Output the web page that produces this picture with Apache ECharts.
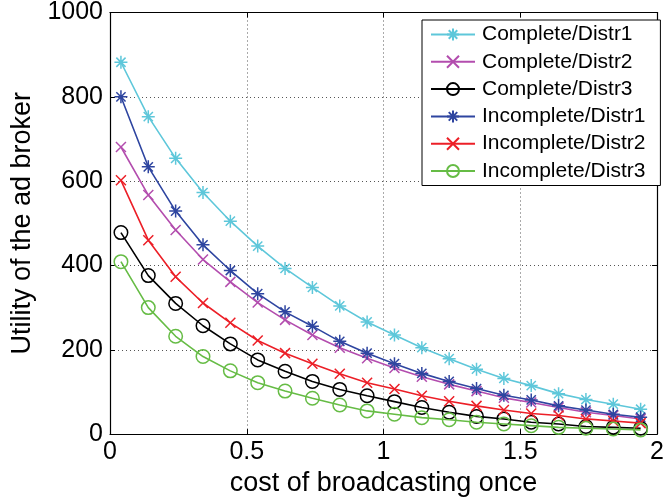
<!DOCTYPE html>
<html>
<head>
<meta charset="utf-8">
<script src="https://cdn.jsdelivr.net/npm/echarts@6/dist/echarts.min.js"></script>
<style>
html,body{margin:0;padding:0;background:#fff;}
#chart{width:667px;height:502px;}
</style>
</head>
<body>
<div id="chart"></div>
<script>
// ---- data ----
var xValues = [0.04, 0.14, 0.24, 0.34, 0.44, 0.54, 0.64, 0.74, 0.84, 0.94, 1.04, 1.14, 1.24, 1.34, 1.44, 1.54, 1.64, 1.74, 1.84, 1.94];
var seriesNames = ['Complete/Distr1', 'Complete/Distr2', 'Complete/Distr3', 'Incomplete/Distr1', 'Incomplete/Distr2', 'Incomplete/Distr3'];
var completeDistr1 = [882, 753, 654, 573, 505, 446, 393, 348, 304, 266, 235, 205, 179, 154, 132, 115, 96, 82, 71, 59];
var completeDistr2 = [681, 567, 484, 414, 361, 312, 271, 235, 205, 180, 157, 136, 118, 102, 86, 75, 63, 52, 44, 36];
var completeDistr3 = [478, 376, 310, 257, 214, 176, 149, 125, 106, 91, 77, 63, 52, 42, 36, 28, 24, 18, 16, 14];
var incompleteDistr1 = [800, 634, 529, 449, 388, 333, 290, 256, 220, 192, 167, 144, 125, 108, 92, 81, 67, 57, 47, 40];
var incompleteDistr2 = [602, 460, 373, 311, 264, 222, 192, 167, 143, 122, 107, 91, 78, 67, 57, 49, 44, 36, 31, 26];
var incompleteDistr3 = [409, 300, 232, 184, 150, 122, 102, 85, 69, 55, 47, 39, 34, 28, 24, 20, 16, 14, 12, 10];
var xTicks = [0, 0.5, 1, 1.5, 2];
var yTicks = [0, 200, 400, 600, 800, 1000];

// ---- styles ----
var FONT = "'Liberation Sans', Arial, Helvetica, sans-serif";
var ASTERISK = 'path://M0,-10L0,10M-10,0L10,0M-7.1,-7.1L7.1,7.1M-7.1,7.1L7.1,-7.1';
var CROSS = 'path://M-10,-10L10,10M-10,10L10,-10';
var styles = [
  {color: '#5EC7DA', symbol: ASTERISK, size: 13},
  {color: '#B34DAE', symbol: CROSS, size: 10},
  {color: '#000000', symbol: 'circle', size: 13.5},
  {color: '#2E45A0', symbol: ASTERISK, size: 13},
  {color: '#EC1F27', symbol: CROSS, size: 10},
  {color: '#66BC45', symbol: 'circle', size: 13.5}
];
var allData = [completeDistr1, completeDistr2, completeDistr3, incompleteDistr1, incompleteDistr2, incompleteDistr3];

function pairs(ys) {
  return xValues.map(function (x, i) { return [x, ys[i]]; });
}

var series = allData.map(function (ys, k) {
  var s = styles[k];
  var isCircle = s.symbol === 'circle';
  return {
    name: seriesNames[k],
    type: 'line',
    xAxisIndex: 0,
    yAxisIndex: 0,
    data: pairs(ys),
    symbol: s.symbol,
    symbolSize: s.size,
    showAllSymbol: true,
    lineStyle: {color: s.color, width: 1.6},
    itemStyle: {
      color: isCircle ? 'rgba(0,0,0,0)' : s.color,
      borderColor: s.color,
      borderWidth: 1.5
    },
    emphasis: {disabled: true},
    z: 2 + k
  };
});

var tickLen = 5;
var chart = echarts.init(document.getElementById('chart'), null, {renderer: 'canvas'});
chart.setOption({
  animation: false,
  backgroundColor: '#fff',
  textStyle: {fontFamily: FONT},
  grid: {left: 110, right: 9, top: 12, bottom: 66, show: false},
  xAxis: [{
    type: 'value', min: xTicks[0], max: xTicks[xTicks.length - 1], interval: 0.5,
    position: 'bottom',
    name: 'cost of broadcasting once', nameLocation: 'middle', nameGap: 31,
    nameTextStyle: {fontSize: 27, color: '#000', fontFamily: FONT},
    axisLine: {show: true, onZero: false, lineStyle: {color: '#000', width: 1.2}},
    axisTick: {show: true, inside: true, length: tickLen, lineStyle: {color: '#000'}},
    axisLabel: {fontSize: 25, color: '#000', margin: 6, fontFamily: FONT,
      formatter: function (v) { return String(v); }},
    splitLine: {show: true, lineStyle: {color: '#555', type: [1, 3], width: 1}}
  }, {
    type: 'value', min: xTicks[0], max: xTicks[xTicks.length - 1], interval: 0.5,
    position: 'top',
    axisLine: {show: true, onZero: false, lineStyle: {color: '#000', width: 1.2}},
    axisTick: {show: true, inside: true, length: tickLen, lineStyle: {color: '#000'}},
    axisLabel: {show: false},
    splitLine: {show: false}
  }],
  yAxis: [{
    type: 'value', min: yTicks[0], max: yTicks[yTicks.length - 1], interval: 200,
    position: 'left',
    name: 'Utility of the ad broker', nameLocation: 'middle', nameGap: 71,
    nameTextStyle: {fontSize: 27, color: '#000', fontFamily: FONT},
    axisLine: {show: true, onZero: false, lineStyle: {color: '#000', width: 1.2}},
    axisTick: {show: true, inside: true, length: tickLen, lineStyle: {color: '#000'}},
    axisLabel: {fontSize: 25, color: '#000', margin: 7, fontFamily: FONT,
      formatter: function (v) { return String(v); }},
    splitLine: {show: true, lineStyle: {color: '#555', type: [1, 3], width: 1}}
  }, {
    type: 'value', min: yTicks[0], max: yTicks[yTicks.length - 1], interval: 200,
    position: 'right',
    axisLine: {show: true, onZero: false, lineStyle: {color: '#000', width: 1.2}},
    axisTick: {show: true, inside: true, length: tickLen, lineStyle: {color: '#000'}},
    axisLabel: {show: false},
    splitLine: {show: false}
  }],
  legend: {
    data: seriesNames,
    orient: 'vertical',
    left: 422,
    top: 20,
    padding: [4, 15, 4, 8],
    itemGap: 6.3,
    itemWidth: 44,
    itemHeight: 15,
    backgroundColor: '#fff',
    borderColor: '#000',
    borderWidth: 1,
    borderRadius: 0,
    selectedMode: false,
    textStyle: {fontSize: 21, lineHeight: 21, color: '#000', fontFamily: FONT, padding: [0, 0, 0, 2]}
  },
  series: series
});
</script>
</body>
</html>
